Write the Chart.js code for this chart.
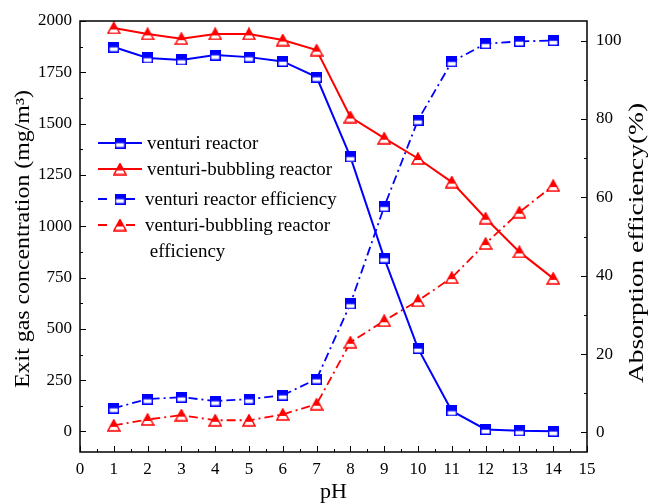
<!DOCTYPE html>
<html>
<head>
<meta charset="utf-8">
<script src="https://cdn.jsdelivr.net/npm/chart.js@4.4.0/dist/chart.umd.min.js"></script>
<style>
  html, body { margin: 0; padding: 0; background: #fff; }
</style>
</head>
<body>
<canvas id="myChart" width="649" height="503"></canvas>
<script>
// values
const pH = [1, 2, 3, 4, 5, 6, 7, 8, 9, 10, 11, 12, 13, 14];
const venturi = [1873, 1820, 1810, 1834, 1824, 1803, 1727, 1338, 845, 405, 100, 10, 3, 1];
const bubbling = [1966, 1937, 1914, 1937, 1937, 1907, 1858, 1532, 1429, 1330, 1215, 1039, 875, 746];
const venturiEff = [6.2, 8.5, 9.0, 8.0, 8.5, 9.5, 13.6, 32.8, 57.6, 79.7, 94.6, 99.2, 99.8, 100];
const bubblingEff = [1.8, 3.3, 4.4, 3.1, 3.1, 4.6, 7.2, 23.0, 28.5, 33.6, 39.5, 48.2, 56.2, 63.0];

const xTicks = [0, 1, 2, 3, 4, 5, 6, 7, 8, 9, 10, 11, 12, 13, 14, 15];
const leftTicks = [0, 250, 500, 750, 1000, 1250, 1500, 1750, 2000];
const rightTicks = [0, 20, 40, 60, 80, 100];

const BLUE = '#0000ff';
const RED = '#ff0000';
const FONT = '"Liberation Serif", "Times New Roman", serif';

// half filled markers
function squareMarker(color) {
  const c = document.createElement('canvas');
  c.width = 11; c.height = 11;
  const g = c.getContext('2d');
  g.fillStyle = '#fff';
  g.fillRect(0.75, 0.75, 9.5, 9.5);
  g.fillStyle = color;
  g.fillRect(0.75, 0.75, 9.5, 5);
  g.strokeStyle = color;
  g.lineWidth = 1.5;
  g.strokeRect(0.75, 0.75, 9.5, 9.5);
  return c;
}
function triangleMarker(color) {
  const c = document.createElement('canvas');
  c.width = 14; c.height = 13;
  const g = c.getContext('2d');
  g.beginPath();
  g.moveTo(7, 1); g.lineTo(13, 12); g.lineTo(1, 12); g.closePath();
  g.fillStyle = '#fff';
  g.fill();
  g.save();
  g.clip();
  g.fillStyle = color;
  g.fillRect(0, 0, 14, 8);
  g.restore();
  g.strokeStyle = color;
  g.lineWidth = 1.5;
  g.stroke();
  return c;
}
const sq = squareMarker(BLUE);
const tri = triangleMarker(RED);

const pts = arr => arr.map((v, i) => ({ x: pH[i], y: v }));
const dashDot = [9, 4, 2, 4];

function fixTicks(list) {
  return s => { s.ticks = list.map(v => ({ value: v })); };
}

// rotated title stretched to the length it has in the reference
function vTitle(ctx, text, x, y, len) {
  ctx.save();
  ctx.translate(x, y);
  ctx.rotate(-Math.PI / 2);
  const w = ctx.measureText(text).width;
  ctx.scale(len / w, 1);
  ctx.fillText(text, 0, 0);
  ctx.restore();
}

const framePlugin = {
  id: 'frame',
  afterDraw(chart) {
    const ctx = chart.ctx;
    const a = chart.chartArea;
    const sx = chart.scales.x, sy = chart.scales.y, sy1 = chart.scales.y1;
    ctx.save();
    ctx.strokeStyle = '#000';
    ctx.lineWidth = 1.5;
    ctx.strokeRect(a.left, a.top, a.right - a.left, a.bottom - a.top);
    ctx.lineWidth = 1;
    ctx.beginPath();
    for (let v = 0; v <= 15; v += 0.5) {
      const px = Math.round(sx.getPixelForValue(v)) + 0.5;
      const len = v % 1 === 0 ? 6 : 3;
      ctx.moveTo(px, a.bottom); ctx.lineTo(px, a.bottom - len);
    }
    for (let v = 0; v <= 2000; v += 125) {
      const py = Math.round(sy.getPixelForValue(v)) + 0.5;
      const len = v % 250 === 0 ? 6 : 3;
      ctx.moveTo(a.left, py); ctx.lineTo(a.left + len, py);
    }
    for (let v = 0; v <= 100; v += 10) {
      const py = Math.round(sy1.getPixelForValue(v)) + 0.5;
      const len = v % 20 === 0 ? 6 : 3;
      ctx.moveTo(a.right, py); ctx.lineTo(a.right - len, py);
    }
    ctx.stroke();

    // axis titles
    ctx.fillStyle = '#000';
    ctx.textAlign = 'center';
    ctx.textBaseline = 'middle';
    ctx.font = '22px ' + FONT;
    ctx.fillText('pH', (a.left + a.right) / 2, 492);
    ctx.font = '20px ' + FONT;
    vTitle(ctx, 'Exit gas concentration (mg/m\u00b3)', 24, 239, 298);
    vTitle(ctx, 'Absorption efficiency(%)', 638, 243, 280);

    // legend
    const items = [
      { y: 143, color: BLUE, img: sq, solid: true, text: ['venturi reactor'] },
      { y: 169, color: RED, img: tri, solid: true, text: ['venturi-bubbling reactor'] },
      { y: 199, color: BLUE, img: sq, solid: false, text: ['venturi reactor efficiency'] },
      { y: 225, color: RED, img: tri, solid: false, text: ['venturi-bubbling reactor', ' efficiency'] }
    ];
    ctx.font = '19px ' + FONT;
    ctx.textAlign = 'left';
    items.forEach(it => {
      ctx.strokeStyle = it.color;
      ctx.lineWidth = 2;
      ctx.beginPath();
      if (it.solid) {
        ctx.moveTo(98, it.y); ctx.lineTo(142, it.y);
      } else {
        ctx.moveTo(98, it.y); ctx.lineTo(107, it.y);
        ctx.moveTo(126, it.y); ctx.lineTo(135, it.y);
      }
      ctx.stroke();
      ctx.drawImage(it.img, 120 - it.img.width / 2, it.y - it.img.height / 2);
      ctx.fillStyle = '#000';
      it.text.forEach((t, k) => ctx.fillText(t, it.solid ? 147 : 145, it.y + 1 + k * 26));
    });
    ctx.restore();
  }
};

const tickFont = { family: FONT, size: 17 };

new Chart(document.getElementById('myChart'), {
  type: 'scatter',
  data: {
    datasets: [
      { label: 'venturi reactor', data: pts(venturi), yAxisID: 'y', showLine: true,
        borderColor: BLUE, borderWidth: 2, pointStyle: sq },
      { label: 'venturi-bubbling reactor', data: pts(bubbling), yAxisID: 'y', showLine: true,
        borderColor: RED, borderWidth: 2, pointStyle: tri },
      { label: 'venturi reactor efficiency', data: pts(venturiEff), yAxisID: 'y1', showLine: true,
        borderColor: BLUE, borderWidth: 1.8, borderDash: dashDot, pointStyle: sq },
      { label: 'venturi-bubbling reactor efficiency', data: pts(bubblingEff), yAxisID: 'y1', showLine: true,
        borderColor: RED, borderWidth: 1.8, borderDash: dashDot, pointStyle: tri }
    ]
  },
  options: {
    responsive: false,
    animation: false,
    layout: { padding: { top: 21, right: 0, left: 0, bottom: 0 } },
    plugins: { legend: { display: false }, tooltip: { enabled: false } },
    scales: {
      x: {
        type: 'linear', min: 0, max: 15,
        afterBuildTicks: fixTicks(xTicks),
        afterFit: s => { s.height = 51; },
        grid: { display: false, drawTicks: false },
        border: { display: false },
        ticks: { color: '#000', padding: 7, font: tickFont, callback: v => String(v) }
      },
      y: {
        position: 'left', min: -100, max: 2000,
        afterBuildTicks: fixTicks(leftTicks),
        afterFit: s => { s.width = 80; },
        grid: { display: false, drawTicks: false },
        border: { display: false },
        ticks: { color: '#000', padding: 8, font: tickFont, callback: v => String(v) }
      },
      y1: {
        position: 'right', min: -5, max: 105,
        afterBuildTicks: fixTicks(rightTicks),
        afterFit: s => { s.width = 62; },
        grid: { display: false, drawTicks: false },
        border: { display: false },
        ticks: { color: '#000', padding: 9, font: tickFont, callback: v => String(v) }
      }
    }
  },
  plugins: [framePlugin]
});
</script>
</body>
</html>
